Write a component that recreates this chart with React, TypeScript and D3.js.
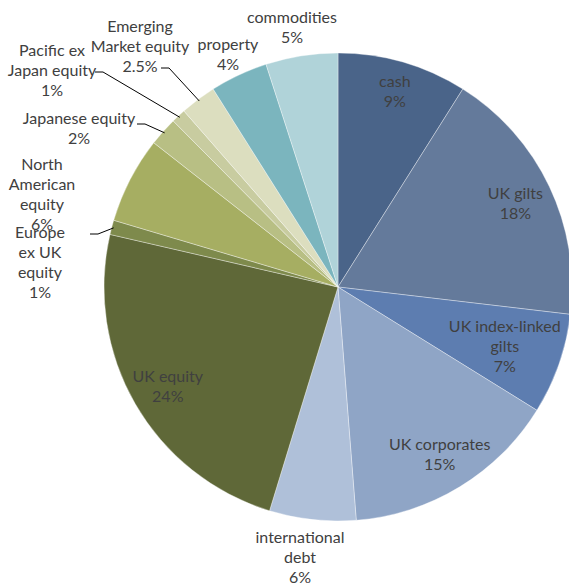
import * as d3 from "d3";

// asset allocation
const categories = [
  "cash",
  "UK gilts",
  "UK index-linked gilts",
  "UK corporates",
  "international debt",
  "UK equity",
  "Europe ex UK equity",
  "North American equity",
  "Japanese equity",
  "Pacific ex Japan equity",
  "Emerging Market equity",
  "property",
  "commodities",
];
const values = [9, 18, 7, 15, 6, 24, 1, 6, 2, 1, 2.5, 4, 5];
const valueLabels = ["9%", "18%", "7%", "15%", "6%", "24%", "1%", "6%", "2%", "1%", "2.5%", "4%", "5%"];
const colors = [
  "#4a6489", "#647a9b", "#5d7db0", "#8fa5c6", "#afc0d9",
  "#5f6838", "#7e8a4c", "#a6ae62", "#b8bf84", "#c8cca0",
  "#dcdebf", "#7bb5be", "#b0d3d9",
];

// how each label breaks into lines
const labelLines: string[][] = [
  ["cash"],
  ["UK gilts"],
  ["UK index-linked", "gilts"],
  ["UK corporates"],
  ["international", "debt"],
  ["UK equity"],
  ["Europe", "ex UK", "equity"],
  ["North", "American", "equity"],
  ["Japanese equity"],
  ["Pacific ex", "Japan equity"],
  ["Emerging", "Market equity"],
  ["property"],
  ["commodities"],
];

const width = 569;
const height = 586;
const cx = 338;
const cy = 287;
const radius = 234;

// inside labels sit on a ring, outside ones are placed by hand like Excel
const insideRadius: Record<string, number> = {
  cash: 0.875,
  "UK gilts": 0.84,
  "UK index-linked gilts": 0.755,
  "UK corporates": 0.835,
  "UK equity": 0.84,
};
const outsideSpot: Record<string, { x: number; y: number; lead?: [number, number] }> = {
  "international debt": { x: 300, y: 536 },
  "Europe ex UK equity": { x: 40, y: 231, lead: [90, 234] },
  "North American equity": { x: 42, y: 163 },
  "Japanese equity": { x: 79, y: 117, lead: [137, 124] },
  "Pacific ex Japan equity": { x: 52, y: 49, lead: [95, 72] },
  "Emerging Market equity": { x: 140, y: 25, lead: [161, 68] },
  property: { x: 228, y: 43 },
  commodities: { x: 292, y: 16 },
};

const lineGap = 20;

export default function App() {
  const data = categories.map((c, i) => ({ name: c, value: values[i], i }));
  const pie = d3
    .pie<(typeof data)[number]>()
    .sort(null)
    .value((d) => d.value)
    .startAngle(0)
    .endAngle(2 * Math.PI);
  const arcs = pie(data);
  const arc = d3
    .arc<d3.PieArcDatum<(typeof data)[number]>>()
    .innerRadius(0)
    .outerRadius(radius);
  const edge = d3
    .arc<d3.PieArcDatum<(typeof data)[number]>>()
    .innerRadius(radius - 2)
    .outerRadius(radius - 2);

  return (
    <svg width={width} height={height} style={{ position: "absolute", left: 0, top: 0 }}>
      <rect width={width} height={height} fill="#ffffff" />
      <g transform={`translate(${cx},${cy})`}>
        {arcs.map((a) => (
          <path
            key={a.data.name}
            d={arc(a) as string}
            fill={colors[a.data.i]}
            stroke="#ffffff"
            strokeWidth={0.6}
            strokeOpacity={0.6}
          />
        ))}
      </g>
      {arcs.map((a) => {
        const lines = [...labelLines[a.data.i], valueLabels[a.data.i]];
        const name = a.data.name;
        let x: number;
        let y: number;
        if (insideRadius[name] !== undefined) {
          const r = radius * insideRadius[name];
          const ang = (a.startAngle + a.endAngle) / 2;
          x = cx + r * Math.sin(ang);
          y = cy - r * Math.cos(ang) - ((lines.length - 1) * lineGap) / 2;
        } else {
          x = outsideSpot[name].x;
          y = outsideSpot[name].y;
        }
        const spot = outsideSpot[name];
        let leader = null;
        if (spot && spot.lead) {
          const [ex, ey] = edge.centroid(a);
          const [sx, sy] = spot.lead;
          leader = (
            <polyline
              points={`${sx},${sy} ${sx + 8},${sy} ${cx + ex},${cy + ey}`}
              fill="none"
              stroke="#000000"
              strokeWidth={1}
            />
          );
        }
        return (
          <g key={"l" + name}>
            {leader}
            <text
              x={x}
              y={y}
              textAnchor="middle"
              fontFamily="Lato, 'DejaVu Sans', sans-serif"
              fontSize={16}
              fill="#404040"
            >
              {lines.map((t, k) => (
                <tspan key={k} x={x} y={y + k * lineGap} dominantBaseline="central">
                  {t}
                </tspan>
              ))}
            </text>
          </g>
        );
      })}
    </svg>
  );
}
